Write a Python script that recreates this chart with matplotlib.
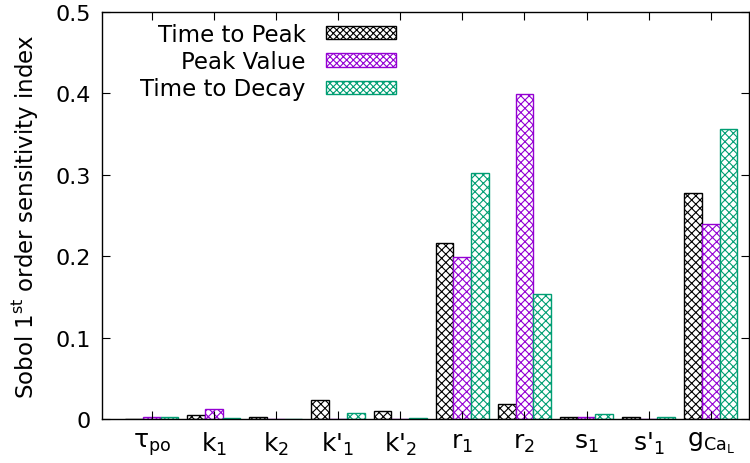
import matplotlib
matplotlib.use("Agg")
import matplotlib.pyplot as plt
import numpy as np
from matplotlib.patches import Patch

categories = [r"$\tau_{po}$", r"$k_1$", r"$k_2$", r"k'$_1$", r"k'$_2$",
              r"$r_1$", r"$r_2$", r"$s_1$", r"s'$_1$", r"$g_{Ca_L}$"]
series_names = ["Time to Peak", "Peak Value", "Time to Decay"]
time_to_peak = [0.0005, 0.005, 0.002, 0.023, 0.0095, 0.216, 0.018, 0.003, 0.003, 0.278]
peak_value = [0.003, 0.012, 0.0005, 0.0003, 0.0003, 0.1995, 0.399, 0.003, 0.0003, 0.239]
time_to_decay = [0.003, 0.001, 0.0005, 0.008, 0.001, 0.302, 0.153, 0.006, 0.002, 0.356]
colors = ["#000000", "#9400D3", "#009E73"]

plt.rcParams['mathtext.default'] = 'regular'
plt.rcParams['hatch.linewidth'] = 0.8
plt.rcParams['font.family'] = ['DejaVu Sans']

fig = plt.figure(figsize=(7.5, 4.64), dpi=100)
ax = fig.add_axes([0.136, 0.0948, 0.863, 0.8772])

x = np.arange(len(categories))
w = 0.285
for i, (vals, c) in enumerate(zip([time_to_peak, peak_value, time_to_decay], colors)):
    ax.bar(x + (i - 1) * w, vals, width=w, facecolor='white', edgecolor=c,
           hatch='xxxx', linewidth=1.0)

ax.set_xlim(-0.8, 9.62)
ax.set_ylim(0, 0.5)
ax.set_yticks([0, 0.1, 0.2, 0.3, 0.4, 0.5])
ax.set_yticklabels(["0", "0.1", "0.2", "0.3", "0.4", "0.5"])
ax.set_xticks(x)
ax.set_xticklabels(categories, fontsize=18)
ax.tick_params(axis='both', direction='in', top=True, right=True, length=6, width=0.8)
ax.tick_params(axis='y', labelsize=16, pad=8)
ax.tick_params(axis='x', pad=8)
for s in ax.spines.values():
    s.set_linewidth(1.0)
ax.set_ylabel(r"Sobol 1$^{st}$ order sensitivity index", fontsize=16.5, labelpad=11)

handles = [Patch(facecolor='white', edgecolor=c, hatch='xxxxx', linewidth=1.0) for c in colors]
ax.legend(handles, series_names, loc='upper right', bbox_to_anchor=(0.4537, 0.973),
          frameon=False, markerfirst=False, fontsize=16.5, handlelength=3.05,
          handleheight=0.5, labelspacing=0.18, borderpad=0, borderaxespad=0,
          handletextpad=0.87)

fig.savefig("out.png", dpi=100)
